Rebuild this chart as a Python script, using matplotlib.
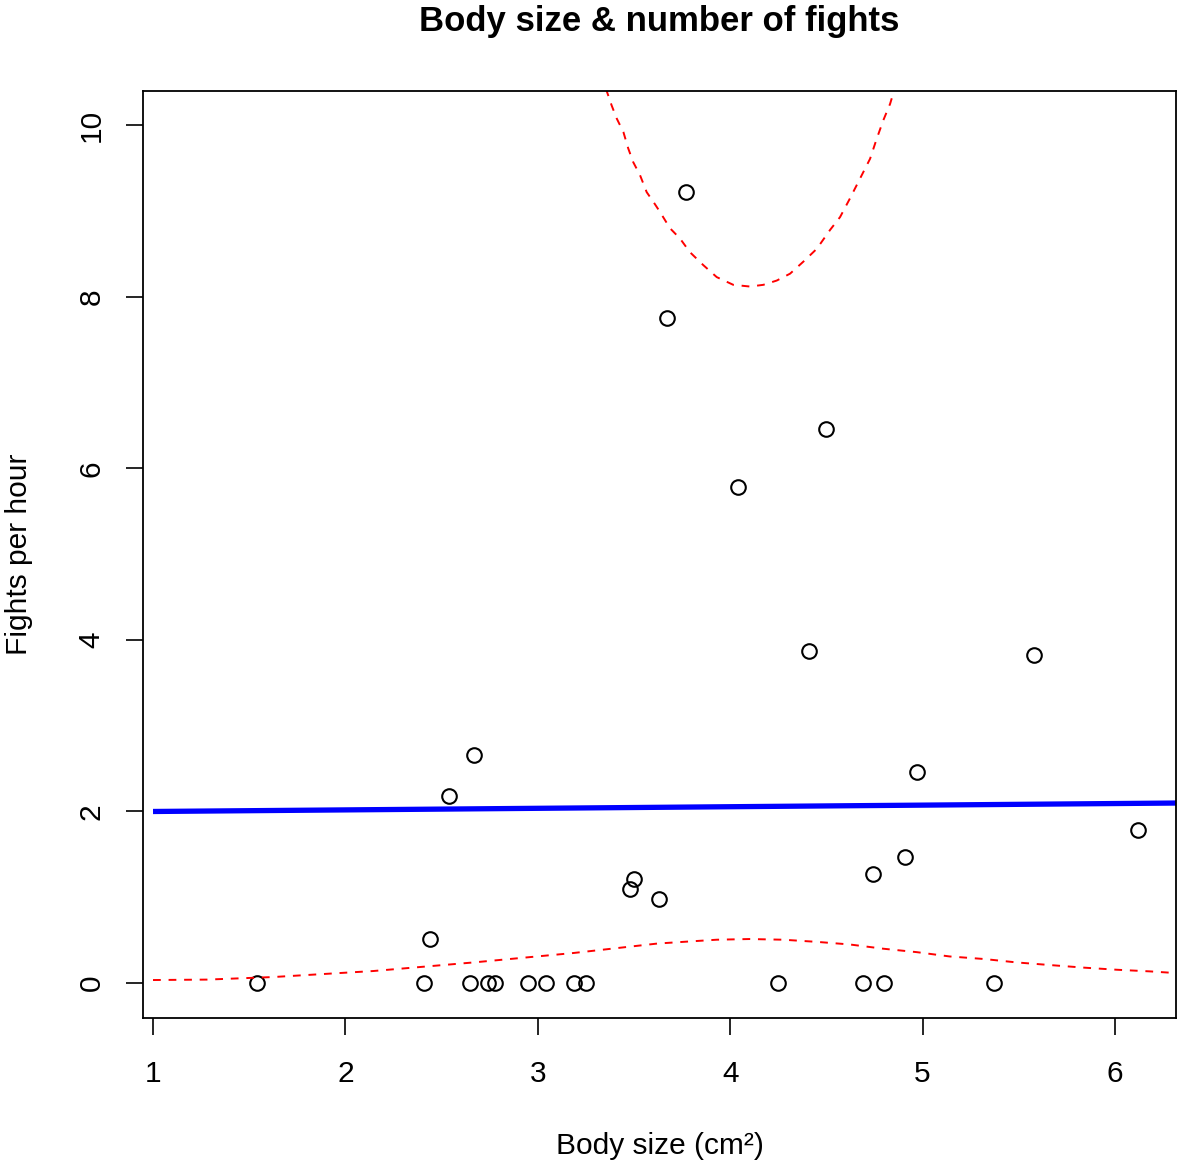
import matplotlib.pyplot as plt

plt.rcParams['font.family'] = ['Liberation Sans', 'DejaVu Sans']

# observed body size vs fights per hour
body_size = [1.54, 2.41, 2.44, 2.54, 2.65, 2.67, 2.74, 2.78, 2.95, 3.04,
             3.19, 3.25, 3.48, 3.50, 3.63, 3.67, 3.77, 4.04, 4.25, 4.41,
             4.50, 4.69, 4.74, 4.80, 4.91, 4.97, 5.37, 5.58, 6.12]
fights = [0.0, 0.0, 0.51, 2.18, 0.0, 2.66, 0.0, 0.0, 0.0, 0.0,
          0.0, 0.0, 1.10, 1.21, 0.98, 7.75, 9.22, 5.78, 0.0, 3.87,
          6.46, 0.0, 1.27, 0.0, 1.47, 2.46, 0.0, 3.82, 1.78]

# fitted line
fit_x = [1.0, 6.4]
fit_y = [2.00, 2.10]

# upper band
up_x = [3.33, 3.358, 3.384, 3.410, 3.445, 3.470, 3.496, 3.531, 3.566, 3.600,
        3.635, 3.687, 3.739, 3.791, 3.860, 3.930, 4.016, 4.103, 4.172, 4.242,
        4.311, 4.380, 4.450, 4.519, 4.571, 4.623, 4.675, 4.727, 4.761, 4.796,
        4.831, 4.851, 4.87]
up_y = [10.6, 10.40, 10.23, 10.08, 9.92, 9.73, 9.57, 9.42, 9.22, 9.11,
        8.99, 8.80, 8.68, 8.52, 8.37, 8.23, 8.14, 8.12, 8.14, 8.19,
        8.27, 8.41, 8.56, 8.78, 8.93, 9.15, 9.38, 9.61, 9.84, 10.06,
        10.25, 10.40, 10.6]

# lower band
lo_x = [1.0, 1.28, 1.625, 2.145, 2.665, 3.185, 3.62, 3.756, 3.93, 4.10,
        4.276, 4.45, 4.62, 4.796, 4.97, 5.14, 5.32, 5.49, 5.66, 5.835,
        6.009, 6.18, 6.29, 6.40]
lo_y = [0.035, 0.04, 0.07, 0.14, 0.24, 0.35, 0.46, 0.48, 0.505, 0.513,
        0.505, 0.48, 0.45, 0.40, 0.36, 0.31, 0.28, 0.24, 0.21, 0.18,
        0.155, 0.136, 0.12, 0.11]

fig = plt.figure(figsize=(11.78, 11.62), dpi=100)
ax = fig.add_axes([0.1214, 0.1239, 0.8769, 0.7978])

ax.plot(body_size, fights, 'o', mfc='none', mec='black', ms=10.5, mew=1.5)
ax.plot(fit_x, fit_y, color='blue', lw=3.8, solid_capstyle='butt')
ax.plot(up_x, up_y, color='red', lw=1.4, dashes=(4, 4))
ax.plot(lo_x, lo_y, color='red', lw=1.4, dashes=(4, 4))

ax.set_xlim(0.948, 6.317)
ax.set_ylim(-0.408, 10.40)
ax.set_xticks([1, 2, 3, 4, 5, 6])
ax.set_yticks([0, 2, 4, 6, 8, 10])
ax.tick_params(length=12, width=1.2, labelsize=21.5)
ax.tick_params(axis='x', pad=18)
ax.tick_params(axis='y', labelrotation=90, pad=15)
for lab in ax.get_yticklabels():
    lab.set_va('center')
for s in ax.spines.values():
    s.set_linewidth(1.3)

ax.set_xlabel('Body size (cm²)', fontsize=21.5, labelpad=32)
ax.set_ylabel('Fights per hour', fontsize=21.5, labelpad=32)
ax.set_title('Body size & number of fights', fontsize=25, fontweight='bold', pad=43)

fig.savefig('out.png', dpi=100)
